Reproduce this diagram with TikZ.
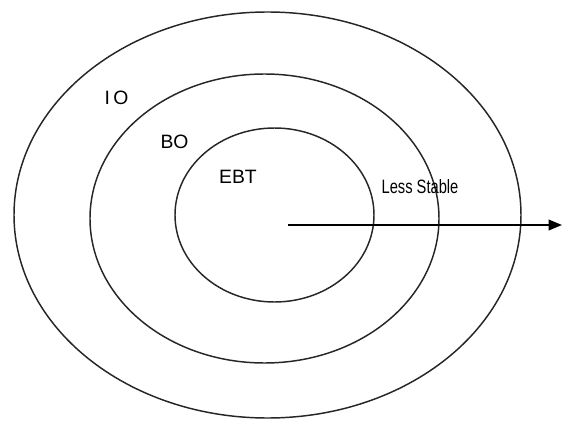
\documentclass[tikz,border=0pt]{standalone}
\usepackage{fontspec}
\setmainfont{Liberation Sans}
\newfontfamily\narrowfont[FakeStretch=0.76]{Liberation Sans}
\usetikzlibrary{arrows.meta}

\begin{document}
\begin{tikzpicture}[x=0.75pt, y=-0.75pt,
    ring/.style={draw=black!85, line width=1.1pt},
    lbl/.style={inner sep=0pt, font=\fontsize{14.5}{16}\selectfont},
    flow/.style={line width=1.1pt, -{Triangle[length=10pt, width=8pt]}}
  ]
    \useasboundingbox (0,0) rectangle (562,421);

    % Outer ring: IO
    \draw[ring] (267.5,215) ellipse [x radius=253.5, y radius=203];
    \node[lbl] (io) at (116.5,98) {I\,O};

    % Middle ring: BO
    \draw[ring] (264.5,218.5) ellipse [x radius=174.5, y radius=144.5];
    \node[lbl] (bo) at (174.5,142) {BO};

    % Inner ring: EBT
    \draw[ring] (274.5,215) ellipse [x radius=99.5, y radius=87];
    \node[lbl] (ebt) at (238,177) {EBT};

    % Stability arrow
    \coordinate (start) at (288,225);
    \coordinate (tip) at (562,225);
    \draw[flow] (start) -- (tip);
    \node[lbl, font=\narrowfont\fontsize{14.5}{16}\selectfont] (less) at (420,187) {Less Stable};
  \end{tikzpicture}
\end{document}
